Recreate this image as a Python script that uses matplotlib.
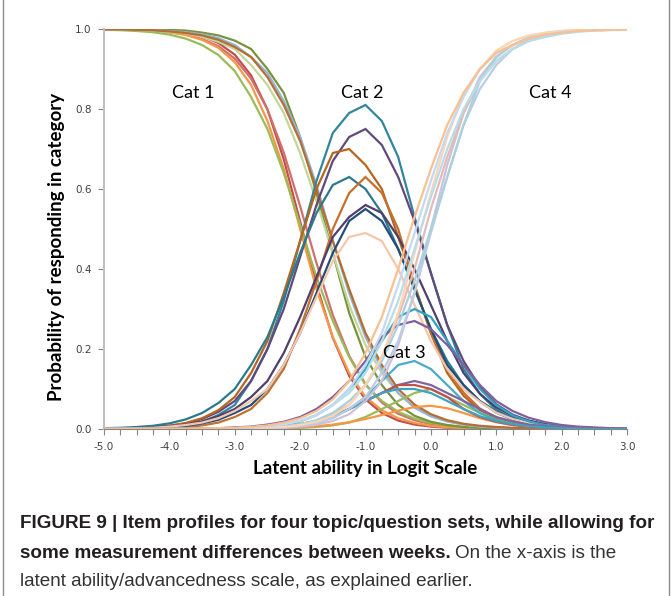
import matplotlib
matplotlib.use("Agg")
from matplotlib import pyplot as plt

# x positions (logit scale, one point every 0.25)
x_vals = [-5.0, -4.75, -4.5, -4.25, -4.0, -3.75, -3.5, -3.25, -3.0, -2.75, -2.5, -2.25,
          -2.0, -1.75, -1.5, -1.25, -1.0, -0.75, -0.5, -0.25, 0.0, 0.25, 0.5, 0.75,
          1.0, 1.25, 1.5, 1.75, 2.0, 2.25, 2.5, 2.75, 3.0]

# Cat 1 curves (falling)
cat1 = [
    [1, .999, .999, .997, .995, .99, .982, .965, .936, .884, .799, .674, .519, .361, .228, .133, .074, .04, .021, .011, .006, .003, .002, .001, 0, 0, 0, 0, 0, 0, 0, 0, 0],
    [.999, .999, .997, .996, .992, .986, .975, .957, .926, .876, .799, .691, .557, .415, .285, .183, .112, .066, .038, .022, .012, .007, .004, .002, .001, .001, 0, 0, 0, 0, 0, 0, 0],
    [.999, .999, .998, .996, .992, .985, .973, .953, .917, .86, .77, .65, .50, .35, .23, .14, .08, .047, .027, .015, .008, .004, .002, .001, 0, 0, 0, 0, 0, 0, 0, 0, 0],
    [.998, .997, .995, .992, .986, .976, .96, .935, .895, .83, .75, .64, .51, .38, .27, .18, .11, .07, .043, .026, .015, .009, .005, .003, .002, .001, 0, 0, 0, 0, 0, 0, 0],
    [1, 1, .999, .999, .998, .996, .991, .984, .971, .95, .90, .84, .73, .59, .44, .29, .18, .11, .06, .033, .018, .01, .005, .003, .002, .001, 0, 0, 0, 0, 0, 0, 0],
    [.999, .999, .998, .996, .993, .989, .981, .968, .95, .91, .86, .79, .69, .57, .44, .31, .21, .14, .09, .053, .032, .019, .011, .007, .004, .002, .001, 0, 0, 0, 0, 0, 0],
    [.999, .999, .998, .997, .995, .992, .987, .977, .96, .93, .89, .82, .73, .61, .47, .34, .23, .15, .09, .054, .032, .019, .011, .006, .004, .002, .001, 0, 0, 0, 0, 0, 0],
    [.999, .999, .998, .997, .994, .99, .984, .973, .955, .93, .88, .81, .72, .60, .47, .35, .24, .16, .10, .061, .037, .022, .013, .008, .005, .003, .002, .001, 0, 0, 0, 0, 0],
]

# Cat 2 curves (peak near -1)
cat2 = [
    [0, .001, .001, .003, .005, .01, .018, .035, .06, .12, .20, .32, .47, .62, .74, .79, .81, .77, .68, .53, .39, .26, .15, .088, .048, .026, .014, .007, .004, .002, .001, 0, 0],
    [.001, .001, .002, .004, .008, .014, .025, .043, .07, .12, .20, .30, .43, .56, .67, .73, .75, .71, .63, .52, .39, .26, .17, .105, .062, .036, .021, .012, .007, .004, .002, .001, 0],
    [.001, .001, .002, .004, .008, .015, .027, .047, .08, .14, .22, .34, .47, .60, .69, .70, .66, .60, .48, .36, .24, .14, .083, .047, .027, .015, .008, .005, .003, .001, .001, 0, 0],
    [.002, .003, .005, .008, .014, .024, .04, .065, .10, .16, .23, .33, .44, .54, .61, .63, .60, .54, .45, .35, .25, .17, .11, .07, .045, .028, .017, .01, .006, .004, .002, .001, .001],
    [0, 0, .001, .001, .002, .004, .009, .016, .03, .05, .09, .15, .25, .37, .50, .59, .63, .59, .50, .36, .24, .15, .091, .051, .028, .015, .008, .004, .002, .001, 0, 0, 0],
    [.001, .001, .002, .004, .007, .011, .019, .032, .05, .08, .12, .19, .28, .38, .48, .53, .56, .54, .48, .40, .31, .22, .14, .088, .054, .033, .02, .012, .007, .004, .002, .001, .001],
    [0, .001, .002, .003, .005, .008, .014, .023, .04, .06, .10, .16, .24, .34, .44, .52, .55, .52, .45, .35, .25, .16, .11, .069, .041, .024, .014, .008, .005, .003, .002, .001, 0],
    [.001, .001, .002, .003, .006, .01, .016, .027, .045, .07, .10, .16, .24, .33, .42, .48, .49, .47, .40, .31, .22, .15, .10, .068, .041, .025, .015, .009, .005, .003, .002, .001, .001],
]

# Cat 3 curves (small peaks near 0)
cat3 = [
    [0, 0, 0, 0, 0, 0, 0, 0, 0, 0, .001, .001, .003, .005, .009, .016, .03, .05, .07, .09, .10, .08, .06, .04, .023, .013, .007, .004, .002, .001, .001, 0, 0],
    [0, 0, 0, 0, 0, 0, 0, 0, 0, 0, .001, .002, .004, .007, .011, .017, .025, .035, .046, .055, .058, .052, .04, .027, .017, .01, .006, .003, .002, .001, 0, 0, 0],
    [0, 0, 0, 0, 0, 0, 0, .001, .001, .003, .005, .01, .019, .035, .06, .10, .15, .22, .28, .30, .28, .22, .16, .10, .06, .034, .019, .01, .006, .003, .002, .001, 0],
    [0, 0, 0, 0, 0, 0, .001, .002, .004, .006, .011, .018, .03, .05, .08, .12, .17, .23, .26, .27, .25, .21, .16, .11, .07, .045, .028, .017, .01, .006, .004, .002, .001],
    [0, 0, 0, 0, 0, 0, 0, 0, 0, .001, .003, .005, .009, .017, .03, .05, .08, .12, .16, .17, .15, .11, .07, .04, .022, .012, .007, .004, .002, .001, 0, 0, 0],
    [0, 0, 0, 0, 0, 0, 0, 0, .001, .002, .004, .007, .012, .02, .03, .05, .07, .09, .11, .12, .11, .09, .07, .05, .03, .019, .011, .007, .004, .002, .001, 0, 0],
    [0, 0, 0, 0, 0, 0, 0, 0, .001, .002, .003, .006, .01, .018, .03, .05, .07, .09, .11, .11, .10, .08, .05, .03, .018, .01, .006, .003, .002, .001, 0, 0, 0],
    [0, 0, 0, 0, 0, 0, 0, 0, .001, .002, .004, .007, .012, .02, .032, .05, .07, .09, .10, .10, .09, .07, .05, .032, .02, .012, .007, .004, .002, .001, 0, 0, 0],
]

# Cat 4 curves (rising)
cat4 = [
    [0, 0, 0, 0, 0, 0, 0, 0, 0, .001, .002, .003, .006, .011, .02, .037, .07, .12, .21, .34, .50, .66, .79, .88, .93, .96, .98, .99, .995, .997, .998, .999, 1],
    [0, 0, 0, 0, 0, 0, 0, 0, .001, .002, .003, .006, .011, .02, .04, .06, .11, .18, .28, .40, .55, .68, .79, .87, .92, .95, .973, .985, .991, .995, .997, .998, .999],
    [0, 0, 0, 0, 0, 0, 0, 0, .001, .001, .002, .004, .008, .015, .027, .05, .08, .14, .22, .34, .49, .63, .76, .85, .91, .95, .97, .983, .99, .995, .997, .998, .999],
    [0, 0, 0, 0, 0, 0, 0, 0, .001, .002, .004, .007, .012, .022, .04, .07, .11, .17, .26, .37, .50, .63, .76, .87, .93, .96, .978, .988, .993, .996, .998, .999, 1],
    [0, 0, 0, 0, 0, 0, 0, 0, .001, .002, .003, .005, .01, .018, .033, .06, .11, .18, .29, .44, .59, .73, .84, .90, .946, .97, .984, .991, .995, .997, .999, .999, 1],
    [0, 0, 0, 0, 0, 0, 0, .001, .002, .004, .007, .012, .02, .035, .06, .09, .14, .22, .32, .45, .58, .70, .80, .87, .92, .95, .97, .98, .988, .993, .996, .997, .998],
    [0, 0, 0, 0, 0, 0, 0, .001, .002, .004, .007, .012, .02, .034, .06, .10, .16, .24, .36, .49, .62, .74, .83, .90, .94, .96, .976, .986, .992, .995, .997, .998, .999],
    [0, 0, 0, 0, 0, 0, .001, .002, .003, .005, .009, .016, .027, .045, .074, .12, .19, .28, .40, .53, .65, .76, .84, .90, .94, .96, .976, .986, .991, .995, .997, .998, .999],
]

colors1 = ['#C0504D', '#D0706D', '#F79646', '#9BBB59', '#77933C', '#C3D69B', '#95B3D7', '#B66D31']
colors2 = ['#31859C', '#604A7B', '#B8651F', '#2B7A8C', '#C4702E', '#4F3F6B', '#254D7A', '#F4C6AC']
colors3 = ['#9BBB59', '#F79646', '#31A3C0', '#7F609E', '#4BACC6', '#8064A2', '#C0504D', '#3FA2BE']
colors4 = ['#CCC1DA', '#E6B9B8', '#B9CDE5', '#A9D0DC', '#FCD5B5', '#B7DEE8', '#C6D9F1', '#FAC090']

x_ticks = [-5.0, -4.0, -3.0, -2.0, -1.0, 0.0, 1.0, 2.0, 3.0]
x_ticklabels = ["-5.0", "-4.0", "-3.0", "-2.0", "-1.0", "0.0", "1.0", "2.0", "3.0"]
y_ticks = [0.0, 0.2, 0.4, 0.6, 0.8, 1.0]
y_ticklabels = ["0.0", "0.2", "0.4", "0.6", "0.8", "1.0"]
cat_labels = ["Cat 1", "Cat 2", "Cat 3", "Cat 4"]
cat_label_pos = [(-3.64, 0.84), (-1.05, 0.84), (-0.41, 0.19), (1.82, 0.84)]

fig = plt.figure(figsize=(6.72, 5.96), dpi=100)
ax = fig.add_axes([104/672, 1-429/596, 523/672, 400/596])

# draw lines, category by category
for data, cols in [(cat1, colors1), (cat2, colors2), (cat3, colors3), (cat4, colors4)]:
    for y, c in zip(data, cols):
        ax.plot(x_vals, y, color=c, lw=1.6, solid_joinstyle='miter')

ax.set_xlim(-5, 3)
ax.set_ylim(0, 1)
ax.set_xticks(x_ticks)
ax.set_xticklabels(x_ticklabels)
ax.set_xticks(x_vals, minor=True)
ax.set_yticks(y_ticks)
ax.set_yticklabels(y_ticklabels)
ax.tick_params(axis='both', labelsize=7.5, length=4, width=0.8, labelcolor='#404040')
ax.tick_params(axis='x', which='minor', length=4, width=0.8, colors='#868686')
ax.tick_params(axis='x', which='major', colors='#868686', labelcolor='#404040', pad=5)
ax.tick_params(axis='y', colors='#868686', labelcolor='#404040', pad=5)
for s in ['top', 'right']:
    ax.spines[s].set_visible(False)
ax.spines['left'].set_color('#BFBFBF')
ax.spines['left'].set_linewidth(1.5)
ax.spines['bottom'].set_color('#868686')
ax.spines['bottom'].set_linewidth(0.8)

ax.set_xlabel("Latent ability in Logit Scale", fontsize=13.5, fontweight='bold', family='Lato', labelpad=6)
ax.set_ylabel("Probability of responding in category", fontsize=13.5, fontweight='bold', family='Lato')
ax.yaxis.set_label_coords(-0.075, 0.455)
for lab, (tx, ty) in zip(cat_labels, cat_label_pos):
    ax.text(tx, ty, lab, fontsize=13, family='Lato', ha='center', va='center')

# caption under the chart
cap_font = 'Liberation Sans'
fig.text(20/672, 1-524/596, "FIGURE 9 | Item profiles for four topic/question sets, while allowing for",
         fontsize=13.6, fontweight='bold', family=cap_font, va='center', color='#231F20')
t2 = fig.text(20/672, 1-553/596, "some measurement differences between weeks.",
              fontsize=13.6, fontweight='bold', family=cap_font, va='center', color='#231F20')
fig.canvas.draw()
bb = t2.get_window_extent()
fig.text((bb.x1 + 4)/672, 1-553/596, "On the x-axis is the",
         fontsize=13.6, family=cap_font, va='center', color='#333333')
fig.text(20/672, 1-581/596, "latent ability/advancedness scale, as explained earlier.",
         fontsize=13.6, family=cap_font, va='center', color='#333333')
fig.add_artist(plt.Line2D([2.5/672, 2.5/672], [0, 1], color='#8C8C8C', lw=1))
fig.add_artist(plt.Line2D([668.5/672, 668.5/672], [0, 1], color='#8C8C8C', lw=1))

plt.savefig("out.png", dpi=100)
